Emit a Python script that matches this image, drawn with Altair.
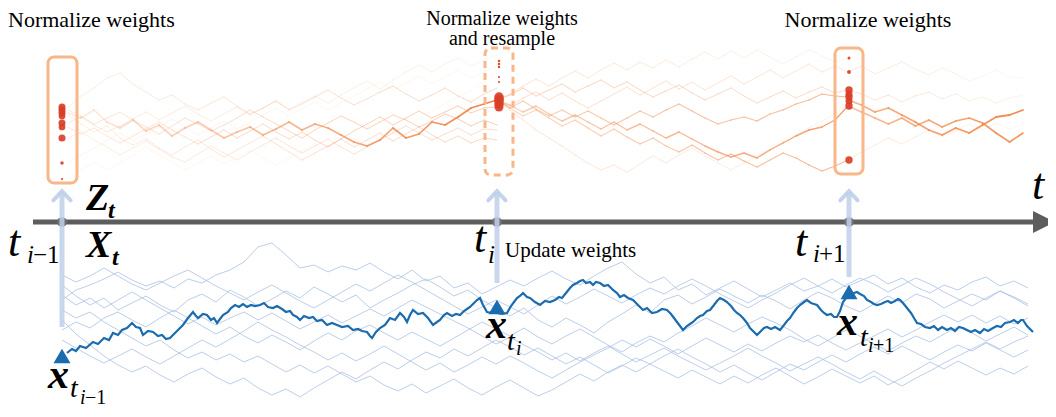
import altair as alt
import pandas as pd

FONT = "Liberation Serif, Times New Roman, serif"

# ---------------- data ----------------
# bold blue trajectory
BLUE_BOLD_X = [67,72,76,80,86,93,98,104,109,113,118,122,127,132,136,140,143,148,153,158,162,166,170,175,179,183,188,193,196,198,203,207,211,214,217,220,223,228,231,235,239,243,247,251,255,260,264,268,273,277,282,286,290,293,297,300,304,309,313,317,322,327,332,337,342,348,353,358,362,367,370,372,376,380,385,390,395,400,404,407,410,413,418,423,428,433,437,440,444,447,452,456,460,464,467,470,474,477,480,483,487,492,497,502,507,511,514,517,520,523,527,530,535,540,545,550,555,559,562,566,570,573,577,580,583,586,590,593,596,600,604,608,613,617,620,624,628,633,637,640,643,647,652,657,662,667,671,674,677,680,683,687,690,693,697,700,703,707,710,714,717,720,724,727,731,734,737,740,743,747,750,754,757,761,764,767,771,775,780,784,787,790,794,797,800,804,807,811,814,817,821,824,827,831,834,837,840,843,846,850,854,857,860,864,867,871,874,877,881,885,888,891,895,898,900,903,907,911,914,917,921,925,930,934,938,942,947,951,955,959,963,967,971,975,980,984,988,993,997,1001,1005,1010,1014,1018,1021,1023,1027,1030,1033]
BLUE_BOLD_Y = [353,349,351,346,348,342,344,338,340,333,335,330,328,323,327,328,335,331,332,336,335,339,338,333,329,325,318,312,316,318,314,315,320,318,323,319,315,312,308,305,307,304,307,305,306,305,303,307,308,306,309,312,311,315,317,320,316,318,317,321,320,325,323,325,327,326,330,329,331,332,336,338,332,328,325,318,320,313,317,322,315,310,314,313,318,325,322,320,315,313,316,314,315,311,309,307,303,300,298,305,312,313,313,314,313,306,302,298,296,293,297,298,302,305,301,302,300,297,298,293,288,285,283,281,280,283,282,285,282,283,286,285,290,293,297,295,298,300,304,307,310,308,313,312,309,310,314,318,322,326,330,326,324,322,318,316,315,311,310,305,301,298,300,302,306,310,313,315,318,323,328,332,335,331,328,327,329,327,330,325,321,318,312,308,305,302,300,303,304,305,310,313,315,314,317,317,311,302,298,295,293,292,294,296,300,302,304,305,304,302,301,303,301,299,300,303,308,313,318,323,324,327,328,326,330,327,330,328,331,327,328,330,332,330,333,329,331,328,326,327,323,322,320,323,320,320,326,329,332]

# thin blue trajectories, evenly sampled from t(i-1) to the right end
BLUE_THIN_SPAN = (62, 1028)
BLUE_THIN = [
    [300,290,285,279,272,280,286,281,288,279,283,275,270,262,247,243,255,268,265,272,266,270,263,272,279,270,281,276,288,283,294,287,280,286,278,271,279,285,276,268,262,274,283,277,290,284,295,288,281,289,297,290,283,291,286,279,287,281,275,284,278,287,293,285,290,282,277,286,281,288],
    [285,296,305,298,310,303,296,305,312,300,294,302,290,297,306,299,291,298,287,294,302,295,308,300,293,285,279,287,296,290,300,308,316,308,320,327,318,325,333,322,314,305,313,300,295,304,297,289,296,303,295,301,309,300,292,298,306,312,304,296,303,294,299,308,301,294,300,291,297,304],
    [330,322,328,318,312,320,327,318,310,318,326,334,327,336,343,335,342,350,341,333,340,331,325,333,340,332,339,346,338,330,322,329,336,328,337,344,336,329,337,345,352,343,336,342,333,326,318,325,332,324,317,323,330,339,346,338,330,336,344,351,343,336,342,334,327,333,341,334,327,335],
    [320,334,345,356,365,372,366,375,382,374,368,377,384,378,388,395,389,397,388,380,372,379,370,362,369,360,352,358,349,356,348,340,347,355,348,356,364,357,365,373,366,358,364,356,349,357,364,372,365,373,380,372,364,370,362,355,362,354,347,354,346,353,360,352,345,351,343,350,357,350],
    [310,318,312,322,330,338,346,340,350,358,352,360,354,362,356,364,372,365,373,366,374,382,376,385,391,384,393,386,379,388,395,387,380,388,396,390,382,374,381,372,365,372,364,371,378,370,377,384,376,383,375,368,376,384,377,369,376,383,376,385,378,370,362,369,361,368,375,368,374,366],
    [275,282,276,268,276,284,290,283,276,270,278,286,293,300,292,285,293,301,308,300,292,284,291,283,275,282,290,298,306,314,307,300,307,314,305,296,304,297,289,296,303,295,288,294,286,279,286,294,301,308,300,293,285,278,286,293,285,278,284,292,285,278,284,292,299,306,298,291,298,306],
    [340,348,356,363,356,349,357,364,356,348,340,347,339,331,322,330,337,345,352,360,353,361,354,346,354,362,370,363,372,365,357,364,356,363,371,378,370,362,355,348,340,347,339,346,354,346,338,345,352,344,351,343,336,342,335,343,350,343,336,329,337,330,322,315,322,315,323,316,324,318],
    [295,305,298,308,300,292,300,308,316,324,317,325,318,312,320,313,321,329,322,315,323,316,309,316,308,300,307,314,321,328,336,344,337,345,352,360,353,361,353,346,354,362,355,348,356,363,370,363,356,348,356,363,371,364,357,364,372,379,371,379,386,378,371,363,356,349,342,349,342,336],
]

# orange particle paths, interval t(i-1) -> t(i)
ORANGE_A_SPAN = (68, 497)
ORANGE_A = [
    [113,118,110,122,128,120,131,125,136,128,122,130,138,132,127,135,129,122,130,124,128,135,142,146,140,128,138,134,122,125,117,108,104,100],
    [107,96,88,78,73,84,92,100,95,104,110,103,97,106,114,108,101,110,104,97,90,98,105,99,92,86,94,101,95,88,96,102,94,88],
    [110,116,124,118,112,120,127,134,126,118,124,131,125,118,110,117,124,131,138,130,123,116,122,129,122,115,120,127,121,114,119,126,120,125],
    [115,124,132,126,138,145,139,148,155,147,140,149,157,150,143,136,144,152,160,153,146,139,147,140,133,141,134,127,135,142,136,143,138,140],
    [123,117,125,132,126,119,112,120,113,106,114,121,114,107,115,108,101,109,102,96,103,95,88,81,89,80,72,65,72,64,58,66,60,55],
    [127,134,128,136,143,136,129,122,130,137,144,137,130,138,131,124,132,139,132,140,147,139,131,124,117,125,118,111,118,112,106,113,108,107],
    [138,132,140,147,155,148,141,149,157,162,154,146,153,160,152,145,138,146,153,146,139,147,154,147,140,133,126,133,140,134,128,135,129,130],
    [163,155,148,141,133,141,134,127,119,127,135,128,121,129,122,115,108,116,109,102,110,103,96,89,82,90,83,76,84,77,70,78,72,65],
    [179,170,162,170,163,155,147,155,162,170,163,156,164,157,150,158,165,158,151,144,152,145,138,146,139,132,125,118,111,104,97,90,82,78],
]
ORANGE_A_ALPHA = [(0.15, 0.95), (0.15, 0.35), (0.2, 0.45), (0.15, 0.35), (0.2, 0.1), (0.2, 0.45), (0.15, 0.3), (0.1, 0.08), (0.08, 0.06)]
ORANGE_A_WIDTH = [1.7, 0.9, 0.9, 0.9, 0.9, 0.9, 0.9, 0.9, 0.9]

# interval t(i) -> t(i+1)
ORANGE_B_SPAN = (497, 848)
ORANGE_B = [
    [100,95,88,96,90,84,92,86,80,88,82,90,97,91,85,93,100,94,88,96,103,97,91,98,92,87,93,90],
    [100,94,86,79,86,78,71,78,70,63,70,62,68,60,67,59,52,59,51,58,50,57,64,57,50,56,62,58],
    [100,106,98,92,100,93,101,108,101,94,87,95,88,81,89,82,90,83,76,84,77,70,78,71,64,72,66,72],
    [100,108,116,110,118,126,120,128,136,129,137,144,138,146,152,145,153,160,154,161,167,160,153,158,165,171,166,160],
    [100,105,112,106,114,121,115,122,129,122,130,124,131,138,132,139,146,152,157,153,158,150,143,136,130,127,120,106],
    [100,108,101,109,116,110,117,111,118,125,118,111,117,110,104,111,118,124,120,117,121,114,110,104,100,94,96,97],
    [100,110,120,130,138,146,155,163,170,165,172,164,156,163,155,148,156,163,170,163,156,149,142,135,128,121,114,100],
]
ORANGE_B_ALPHA = [(0.4, 0.3), (0.25, 0.1), (0.3, 0.2), (0.3, 0.55), (0.35, 0.75), (0.35, 0.55), (0.25, 0.12)]
ORANGE_B_WIDTH = [0.9, 0.9, 0.9, 1.2, 1.4, 1.2, 0.9]

# interval t(i+1) -> end
ORANGE_C_SPAN = (848, 1023)
ORANGE_C = [
    [100,105,112,108,115,122,130,135,128,133,125,117,115,110],
    [106,112,118,124,118,126,120,127,121,118,123,133,142,133],
    [90,94,100,95,102,96,92,99,94,101,97,103,98,95],
    [72,66,74,68,62,69,75,68,74,81,76,70,77,78],
    [160,152,145,138,144,137,130,137,131,124,130,123,129,125],
]
ORANGE_C_ALPHA = [(0.6, 0.9), (0.5, 0.85), (0.25, 0.12), (0.2, 0.08), (0.2, 0.08)]
ORANGE_C_WIDTH = [1.8, 1.6, 0.9, 0.9, 0.9]

# particle weights (dots)
DOT_T = [62]*9 + [499]*9 + [849]*8
DOT_Y = [107,110,113,116,123,127,138,163,179,
         61,64,67,77,82,97,100,104,107,
         58,72,90,94,97,101,106,160]
DOT_W = [50,50,50,45,50,45,50,12,5,
         6,6,6,5,5,90,100,90,80,
         9,15,55,50,55,50,55,55]

# time points
TIMES = [62, 497, 849]
STATE_Y = [356, 307, 292]      # observed x_t (triangles)
SHAFT_LOW = [327, 283, 277]

# weight boxes
BOX_X = [48, 835]; BOX_X2 = [77, 863]; BOX_Y = [57, 48]; BOX_Y2 = [183, 174]
DBOX_X = [485]; DBOX_X2 = [513]; DBOX_Y = [48]; DBOX_Y2 = [175]

# ---------------- helpers ----------------
XS = alt.Scale(domain=[8, 1048], nice=False, zero=False)
YS = alt.Scale(domain=[8, 409], reverse=True, nice=False, zero=False)


def X(f="x"):
    return alt.X(f + ":Q", scale=XS, axis=None)


def Y(f="y"):
    return alt.Y(f + ":Q", scale=YS, axis=None)


seg_rows = []


def add_segments(lines, span, alphas, widths):
    for ys, (a0, a1), w in zip(lines, alphas, widths):
        n = len(ys)
        for i in range(n - 1):
            xa = span[0] + (span[1] - span[0]) * i / (n - 1)
            xb = span[0] + (span[1] - span[0]) * (i + 1) / (n - 1)
            f = i / (n - 2)
            seg_rows.append(dict(x=xa, y=ys[i], x2=xb, y2=ys[i + 1],
                                 op=a0 + (a1 - a0) * f, w=w))


add_segments(ORANGE_A, ORANGE_A_SPAN, ORANGE_A_ALPHA, ORANGE_A_WIDTH)
add_segments(ORANGE_B, ORANGE_B_SPAN, ORANGE_B_ALPHA, ORANGE_B_WIDTH)
add_segments(ORANGE_C, ORANGE_C_SPAN, ORANGE_C_ALPHA, ORANGE_C_WIDTH)
seg_df = pd.DataFrame(seg_rows)

orange = alt.Chart(seg_df).mark_rule(color="#f0813f", strokeCap="round").encode(
    x=X(), y=Y(), x2="x2:Q", y2="y2:Q",
    opacity=alt.Opacity("op:Q", scale=None),
    strokeWidth=alt.StrokeWidth("w:Q", scale=None),
)

thin_rows = []
for li, ys in enumerate(BLUE_THIN):
    n = len(ys)
    for i, yv in enumerate(ys):
        thin_rows.append(dict(line=li, i=i,
                              x=BLUE_THIN_SPAN[0] + (BLUE_THIN_SPAN[1] - BLUE_THIN_SPAN[0]) * i / (n - 1),
                              y=yv))
thin_df = pd.DataFrame(thin_rows)
blue_thin = alt.Chart(thin_df).mark_line(color="#a9c0e2", strokeWidth=0.8).encode(
    x=X(), y=Y(), detail="line:N", order="i:Q")

bold_df = pd.DataFrame(dict(x=BLUE_BOLD_X, y=BLUE_BOLD_Y, i=list(range(len(BLUE_BOLD_X)))))
blue_bold = alt.Chart(bold_df).mark_line(color="#1a6cae", strokeWidth=2.2).encode(
    x=X(), y=Y(), order="i:Q")

box_df = pd.DataFrame(dict(x=BOX_X, x2=BOX_X2, y=BOX_Y, y2=BOX_Y2))
boxes = alt.Chart(box_df).mark_rect(fill="white", fillOpacity=0, stroke="#f8b689",
                                    strokeWidth=3, cornerRadius=6).encode(
    x=X(), x2="x2:Q", y=Y(), y2="y2:Q")
dbox_df = pd.DataFrame(dict(x=DBOX_X, x2=DBOX_X2, y=DBOX_Y, y2=DBOX_Y2))
dboxes = alt.Chart(dbox_df).mark_rect(fill="white", fillOpacity=0, stroke="#f8b689",
                                      strokeWidth=3, cornerRadius=6,
                                      strokeDash=[7, 5]).encode(
    x=X(), x2="x2:Q", y=Y(), y2="y2:Q")

dot_df = pd.DataFrame(dict(x=DOT_T, y=DOT_Y, s=DOT_W))
dots = alt.Chart(dot_df).mark_circle(color="#d93f27", opacity=0.92).encode(
    x=X(), y=Y(), size=alt.Size("s:Q", scale=None))

# time axis
axis_df = pd.DataFrame(dict(x=[33], x2=[1036], y=[222]))
axis_line = alt.Chart(axis_df).mark_rule(color="#5d5d5d", strokeWidth=5).encode(
    x=X(), x2="x2:Q", y=Y())
head_df = pd.DataFrame(dict(x=[1044], y=[222]))
axis_head = alt.Chart(head_df).mark_point(shape="M-1,-1L1,0L-1,1Z", filled=True, size=484,
                                          color="#5d5d5d", opacity=1).encode(x=X(), y=Y())

tick_df = pd.DataFrame(dict(x=TIMES, y=[222] * 3))
ticks = alt.Chart(tick_df).mark_circle(color="#6b717c", size=95, opacity=1).encode(x=X(), y=Y())

shaft_df = pd.DataFrame(dict(x=TIMES, y=SHAFT_LOW, y2=[192] * 3))
shafts = alt.Chart(shaft_df).mark_rule(color="#bfd0ea", strokeWidth=5, opacity=0.85).encode(
    x=X(), y=Y(), y2="y2:Q")
chev_df = pd.DataFrame(dict(x=TIMES, y=[195.5] * 3))
chevrons = alt.Chart(chev_df).mark_point(shape="M-1,0.55L0,-0.5L1,0.55", filled=False,
                                         strokeWidth=4, size=300, color="#bfd0ea",
                                         opacity=0.9, strokeCap="round").encode(x=X(), y=Y())

tri_df = pd.DataFrame(dict(x=TIMES, y=STATE_Y))
triangles = alt.Chart(tri_df).mark_point(shape="triangle-up", filled=True, size=290,
                                         color="#1a6cae", opacity=1).encode(x=X(), y=Y())


def texts(rows, size, align="left", style="normal", weight="normal", **kw):
    df = pd.DataFrame(rows, columns=["txt", "x", "y"])
    return alt.Chart(df).mark_text(font=FONT, fontSize=size, align=align, baseline="alphabetic",
                                   fontStyle=style, fontWeight=weight, color="black", **kw).encode(
        x=X(), y=Y(), text="txt:N")


layers = [
    orange, boxes, dboxes, dots,
    blue_thin, blue_bold,
    axis_line, axis_head, ticks, shafts, chevrons, triangles,
    texts([("Normalize weights", 8, 27)], 22),
    texts([("Normalize weights", 868, 27)], 22, align="center"),
    texts([("Normalize weights\nand resample", 502, 25)], 20, align="center",
          lineBreak="\n", lineHeight=20),
    texts([("Update weights", 505, 257)], 21),
    # t labels on the time axis
    texts([("t", 8, 256), ("t", 474, 252), ("t", 795, 256), ("t", 1032, 199)], 44, style="italic"),
    texts([("i", 27, 263), ("i", 488, 263), ("i", 813, 262)], 25, style="italic"),
    texts([("\u22121", 33, 263), ("+1", 819, 262)], 25),
    # Z_t and X_t
    texts([("Z", 86, 210), ("X", 86, 257)], 38, style="italic", weight="bold"),
    texts([("t", 108, 218), ("t", 112, 265)], 24, style="italic", weight="bold"),
    # x_{t_k}
    texts([("x", 48, 388), ("x", 486, 338), ("x", 837, 335)], 42, style="italic", weight="bold"),
    texts([("t", 70, 397), ("t", 507, 350), ("t", 860, 346)], 28, style="italic"),
    texts([("i", 80, 404), ("i", 516, 355), ("i", 868, 352)], 20, style="italic"),
    texts([("\u22121", 85, 404), ("+1", 873, 352)], 20),
]

chart = alt.layer(*layers).properties(
    width=1040, height=401, padding=0,
    autosize=alt.AutoSizeParams(type="none"),
    background="white",
).configure_view(strokeWidth=0)

chart.save("out.html", embed_options={"renderer": "svg", "actions": False})
